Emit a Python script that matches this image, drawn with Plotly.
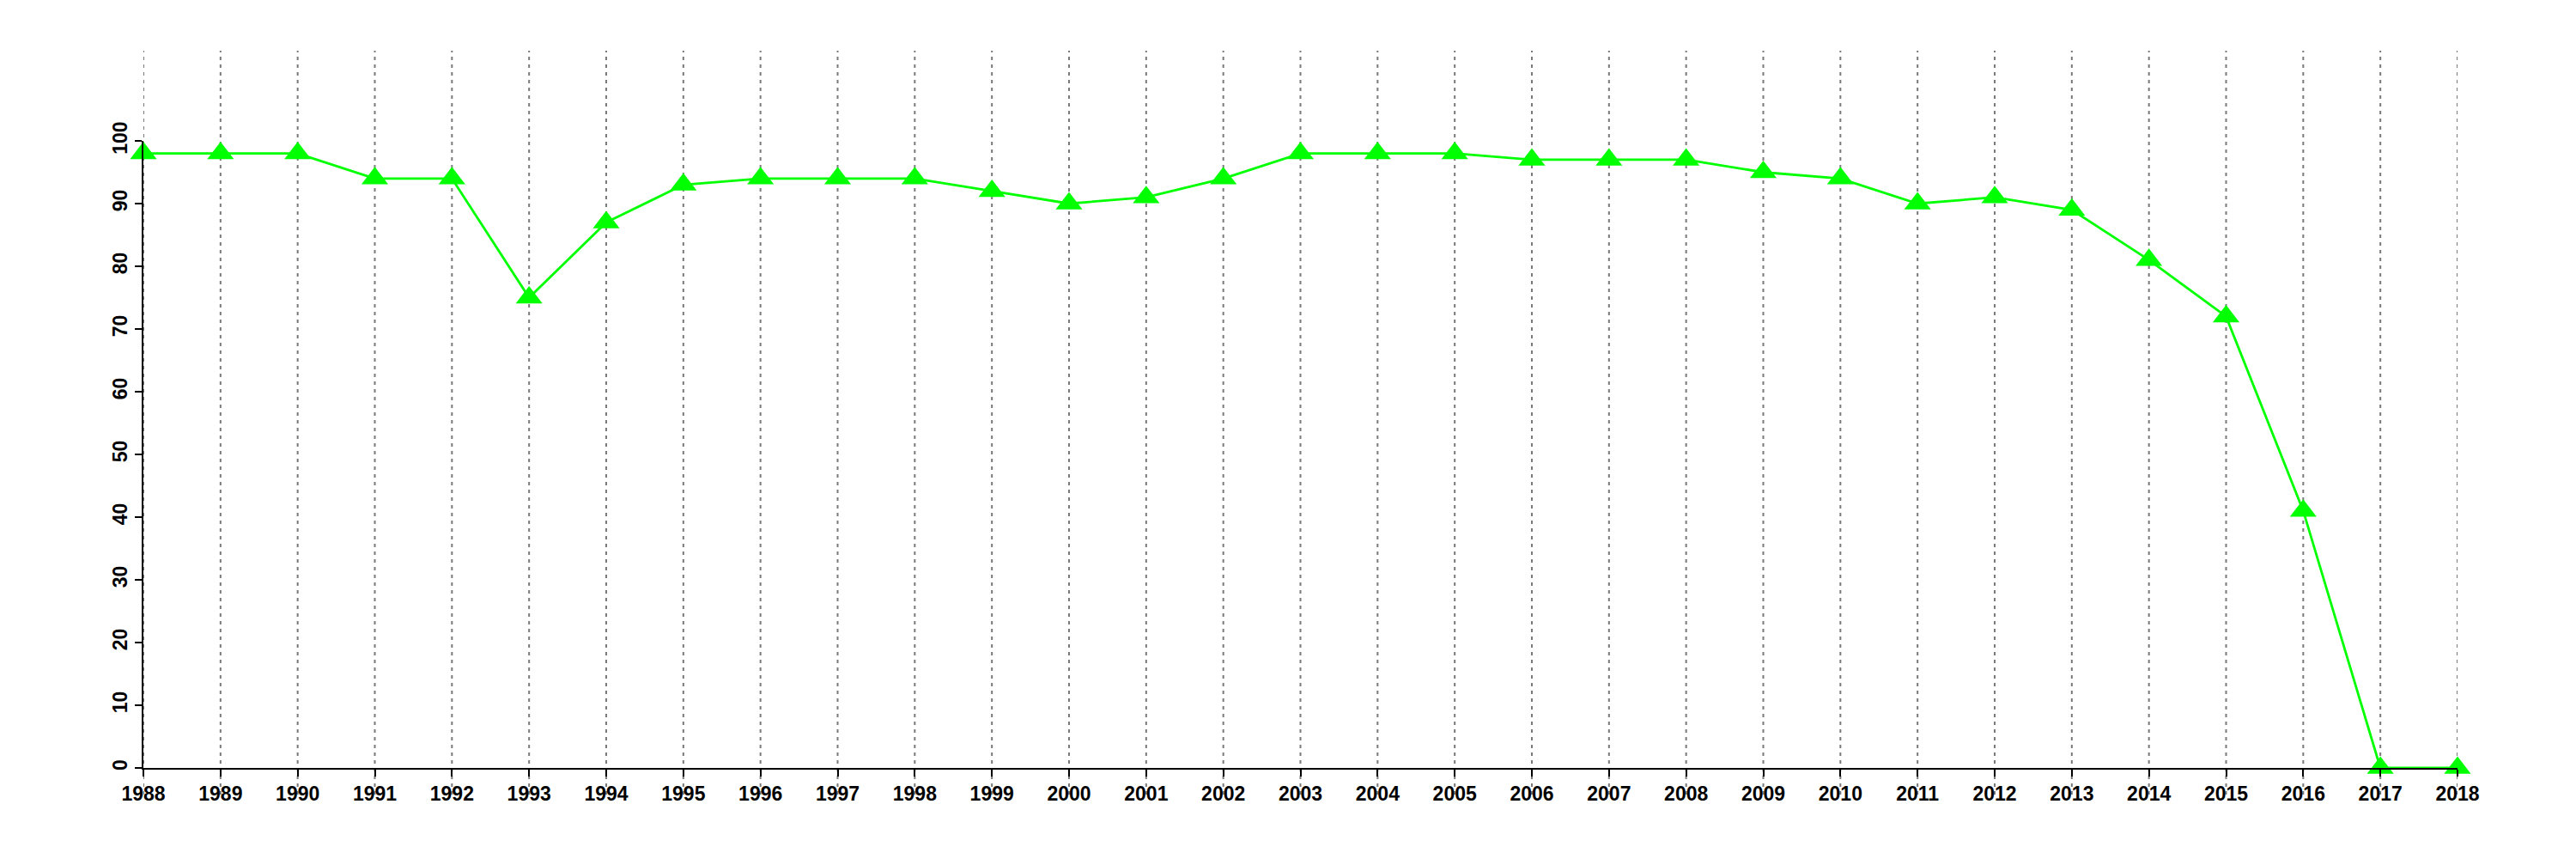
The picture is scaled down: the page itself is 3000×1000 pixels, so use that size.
import plotly.graph_objects as go

years = list(range(1988, 2019))
values = [98, 98, 98, 94, 94, 75, 87, 93, 94, 94,
          94, 92, 90, 91, 94, 98, 98, 98, 97, 97,
          97, 95, 94, 90, 91, 89, 81, 72, 41, 0, 0]
y_ticks = list(range(0, 101, 10))
x_tick_labels = [str(y) for y in years]

fig = go.Figure()

fig.add_trace(go.Scatter(
    x=years, y=values, mode="lines+markers",
    line=dict(color="#00FF00", width=2.8),
    marker=dict(symbol="triangle-up", size=27, color="#00FF00"),
    cliponaxis=False, showlegend=False,
))

for yr in years:
    fig.add_shape(type="line", xref="x", yref="paper",
                  x0=yr, x1=yr, y0=-0.0425, y1=1.144,
                  line=dict(color="#7a7a7a", width=2, dash="4px,5px"),
                  layer="below")

tickfont = dict(family="Liberation Sans", size=23, color="black", weight="bold")

fig.update_layout(
    width=3000, height=1000,
    margin=dict(l=159, r=146, t=156, b=114),
    paper_bgcolor="white", plot_bgcolor="white",
    xaxis=dict(range=[1988, 2018], tickvals=years, ticktext=x_tick_labels,
               showgrid=False, zeroline=False, showline=True, linecolor="black",
               linewidth=2, ticks="outside", ticklen=8, tickwidth=2,
               tickcolor="black", tickfont=tickfont),
    yaxis=dict(range=[0, 100], tickvals=y_ticks, tickangle=-90,
               showgrid=False, zeroline=False, showline=True, linecolor="black",
               linewidth=2, ticks="outside", ticklen=8, tickwidth=2,
               tickcolor="black", tickfont=tickfont),
)

fig.write_html("out.html")
